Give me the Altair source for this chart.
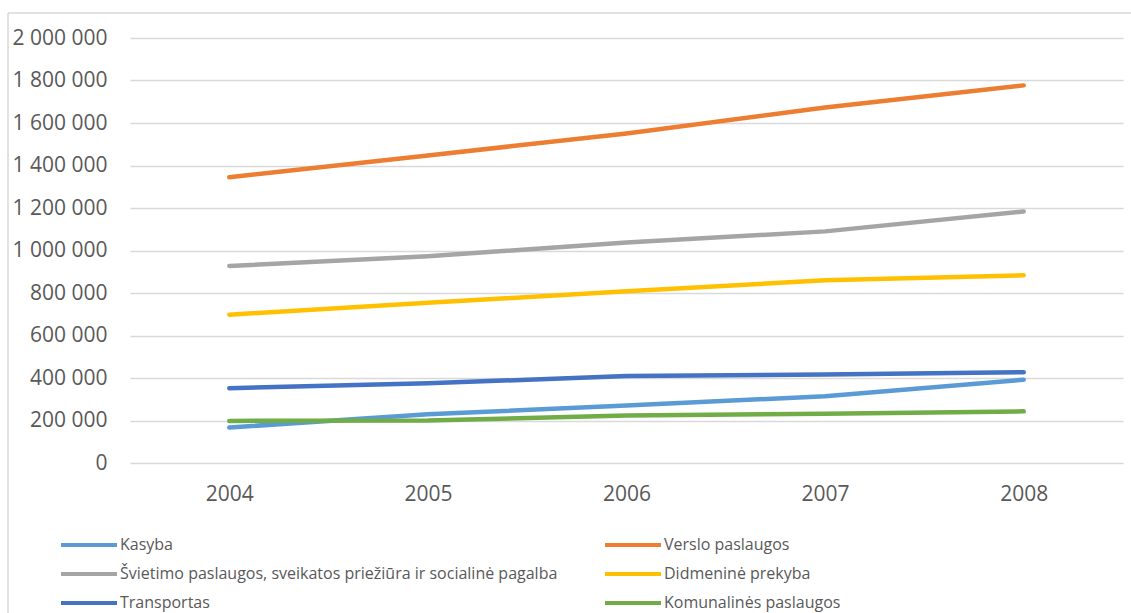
import altair as alt
import pandas as pd

# Categories and series (employees by sector, 2004-2008)
years = ["2004", "2005", "2006", "2007", "2008"]
series_names = [
    "Kasyba",
    "Verslo paslaugos",
    "Švietimo paslaugos, sveikatos priežiūra ir socialinė pagalba",
    "Didmeninė prekyba",
    "Transportas",
    "Komunalinės paslaugos",
]
kasyba = [167000, 229000, 271000, 314000, 392000]
verslo = [1345000, 1447000, 1551000, 1673000, 1777000]
svietimas = [927000, 973000, 1038000, 1090000, 1184000]
didmenine = [698000, 754000, 808000, 860000, 883000]
transportas = [352000, 375000, 409000, 416000, 427000]
komunalines = [198000, 200000, 224000, 232000, 243000]
series_values = [kasyba, verslo, svietimas, didmenine, transportas, komunalines]

colors = ["#5B9BD5", "#ED7D31", "#A5A5A5", "#FFC000", "#4472C4", "#70AD47"]
y_ticks = list(range(0, 2000001, 200000))

rows = []
for name, vals in zip(series_names, series_values):
    for yr, v in zip(years, vals):
        rows.append({"series": name, "year": yr, "value": v})
df = pd.DataFrame(rows)

# The legend grid fills column by column; list entries so that the
# two columns read left-to-right in series order.
legend_order = [series_names[i] for i in (0, 2, 4, 1, 3, 5)]
legend_colors = [colors[i] for i in (0, 2, 4, 1, 3, 5)]

font = "Open Sans"
text_color = "#595959"
grid_color = "#D9D9D9"

# Long, thin legend swatch: a horizontal stroke wider than its symbol box,
# so the legend rows can stay tight.
swatch_path = "M-1.75,0H1.75"

lines = alt.Chart(df).mark_line(
    strokeWidth=4.5, strokeCap="round", strokeJoin="round"
).encode(
    x=alt.X(
        "year:O",
        sort=years,
        scale=alt.Scale(type="point", padding=0.5),
        axis=alt.Axis(
            title=None, labelAngle=0, ticks=False, domain=False, grid=False,
            labelFont=font, labelFontSize=21, labelColor=text_color,
            labelBaseline="middle", labelPadding=31,
        ),
    ),
    y=alt.Y(
        "value:Q",
        scale=alt.Scale(domain=[0, 2000000], nice=False),
        axis=alt.Axis(
            title=None, values=y_ticks, ticks=False, domain=False,
            gridColor=grid_color, gridWidth=1.5,
            labelFont=font, labelFontSize=21, labelColor=text_color,
            labelPadding=23,
            labelExpr="replace(replace(format(datum.value, ','), ',', ' '), ',', ' ')",
        ),
    ),
    color=alt.Color(
        "series:N",
        sort=legend_order,
        scale=alt.Scale(domain=legend_order, range=legend_colors),
        legend=alt.Legend(
            title=None, orient="none", legendX=-69, legendY=489,
            columns=2, columnPadding=39, rowPadding=3,
            symbolType=swatch_path, symbolSize=1024, symbolStrokeWidth=4,
            symbolOffset=10,
            labelFont=font, labelFontSize=16, labelColor=text_color,
            labelOffset=13, labelLimit=700, padding=0,
        ),
    ),
)

# Outer chart frame (left and top edges)
anchor = pd.DataFrame({"k": [0]})
frame_top = alt.Chart(anchor).mark_rule(color=grid_color, strokeWidth=1.5).encode(
    x=alt.value(-122), x2=alt.value(1010), y=alt.value(-25)
)
frame_left = alt.Chart(anchor).mark_rule(color=grid_color, strokeWidth=1.5).encode(
    x=alt.value(-122), y=alt.value(-25), y2=alt.value(600)
)

chart = alt.layer(frame_top, frame_left, lines).properties(
    width=993,
    height=425,
    padding={"left": 130, "top": 38, "right": 8, "bottom": 150},
    autosize=alt.AutoSizeParams(type="none"),
    background="white",
).configure_view(stroke=None)

chart.save("out.html", embed_options={"renderer": "svg", "actions": False})
